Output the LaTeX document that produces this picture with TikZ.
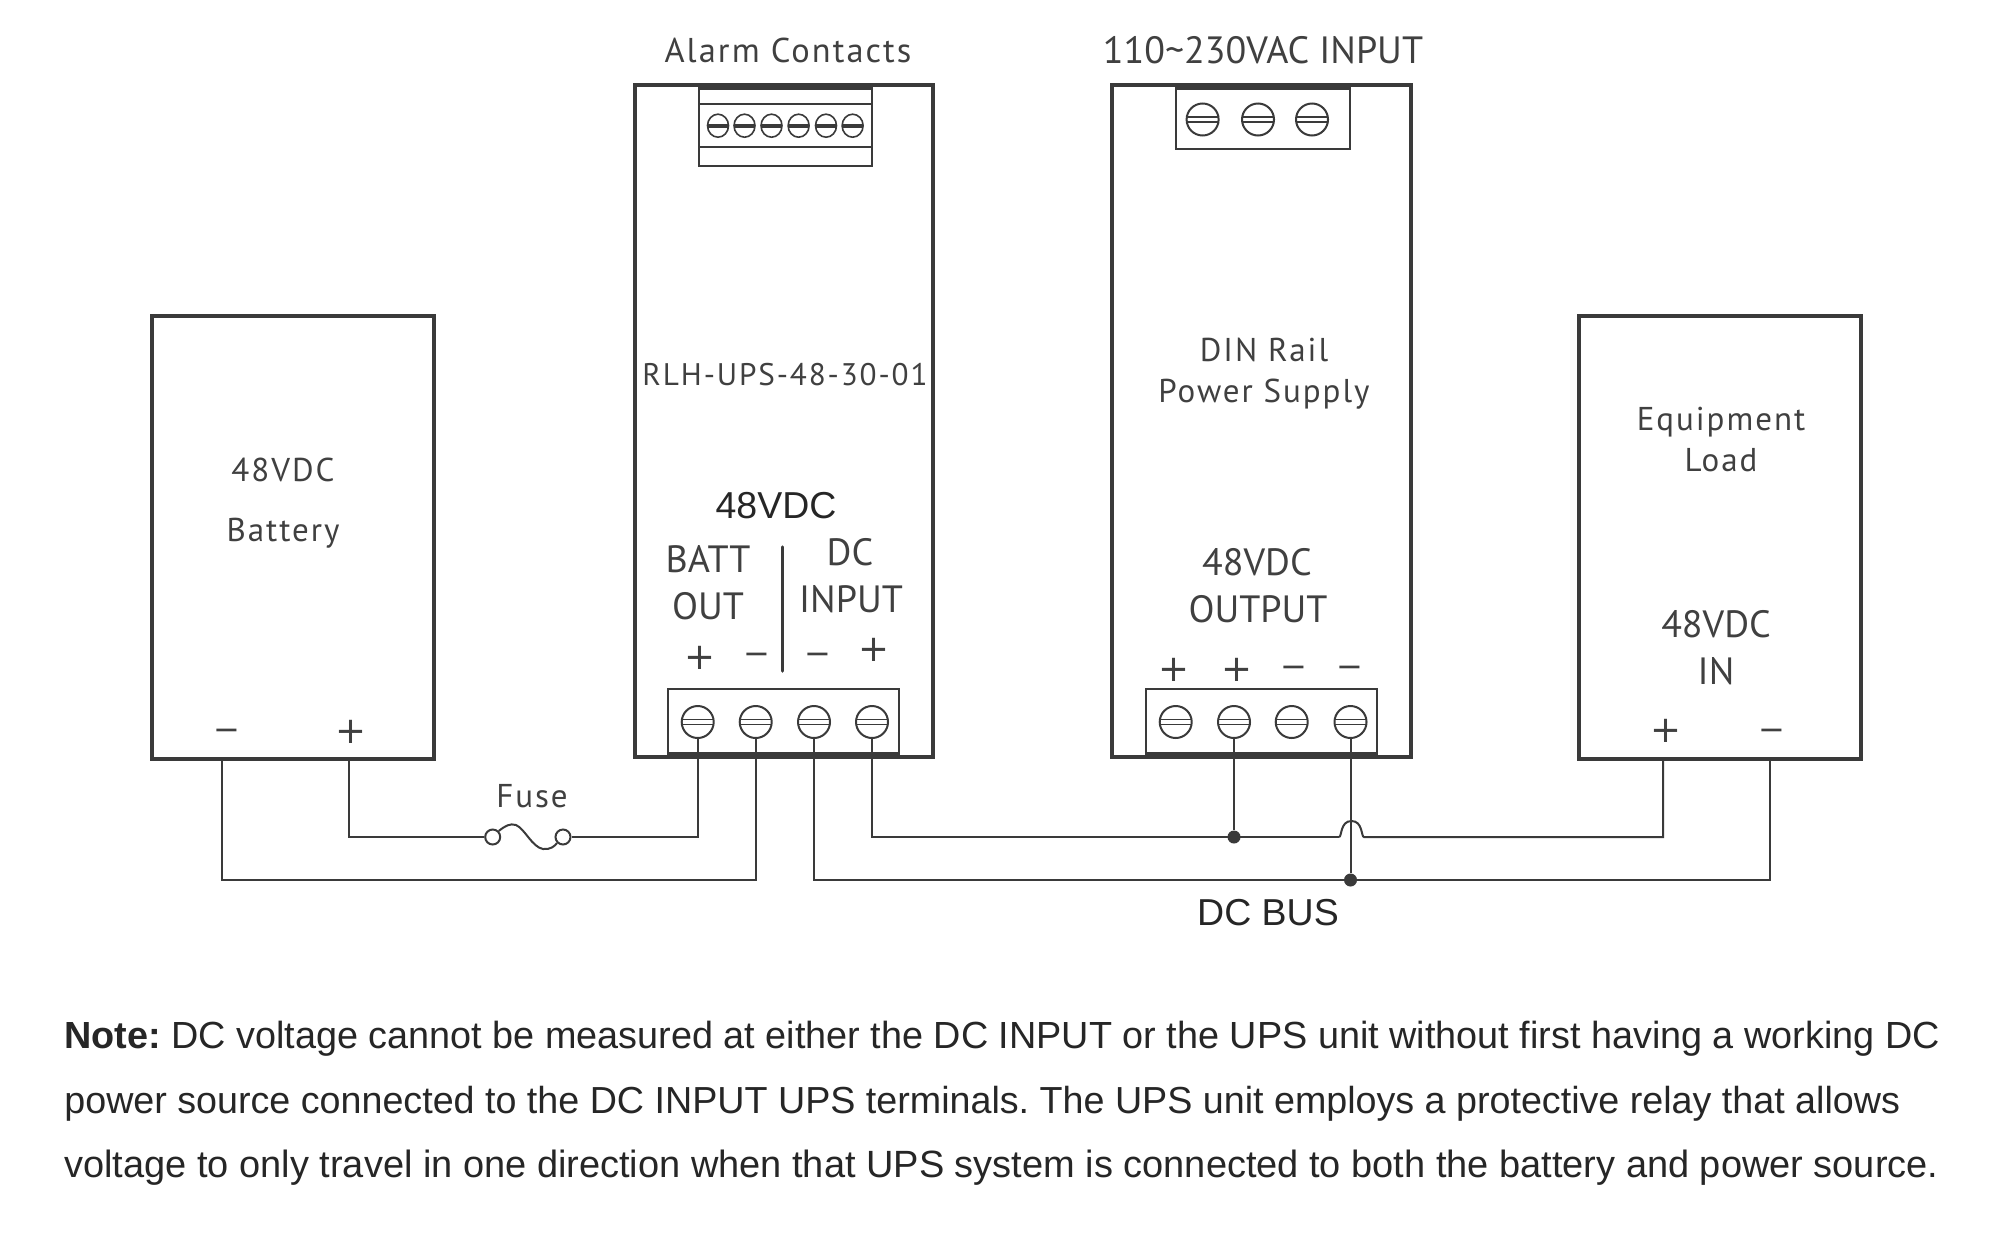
\documentclass[tikz,border=0pt]{standalone}
\usepackage{fontspec}
\usetikzlibrary{shapes.geometric}
\setmainfont{Liberation Sans}
\newfontfamily\lab{PT Sans}
\newfontfamily\labsp[LetterSpace=6]{PT Sans}
\newfontfamily\signfont{DejaVu Sans}
\newcommand{\fs}[1]{\pgfmathsetlengthmacro{\myfs}{#1*0.5pt}\fontsize{\myfs}{\myfs}\selectfont}
\definecolor{ink}{HTML}{3A3A3A}
\definecolor{txt}{HTML}{404040}
\frenchspacing
\tikzset{
  x=0.5pt,y=-0.5pt,
  unitbox/.style={draw=ink,line width=2pt,rectangle,inner sep=0pt,minimum width=#1},
  termbox/.style={draw=ink,line width=1pt,rectangle,inner sep=0pt},
  screw/.style={draw=ink,line width=1pt,circle,inner sep=0pt,minimum size=16pt,fill=white},
  smallscrew/.style={draw=ink,line width=0.8pt,ellipse,inner sep=0pt,minimum width=10.5pt,minimum height=11.5pt},
  wire/.style={draw=ink,line width=1pt,line join=miter},
  dot/.style={circle,fill=ink,inner sep=0pt,minimum size=6.5pt},
  fusepad/.style={draw=ink,line width=1pt,circle,inner sep=0pt,minimum size=7.5pt},
  lbl/.style={text=txt,inner sep=0pt,align=center,font=\labsp\fs{33}},
  big/.style={text=txt,inner sep=0pt,align=center,font=\lab\fs{38}},
  plus/.style={text=txt,inner sep=0pt,font=\signfont\fs{37}},
  minus/.style={text=txt,inner sep=0pt,font=\signfont\fs{32}},
  hel/.style={text=black!85,inner sep=0pt,font=\fs{37.5}},
  notetext/.style={text=black!85,inner sep=0pt,anchor=base west,font=\fs{#1}},
}
\begin{document}
\begin{tikzpicture}
\useasboundingbox[fill=white] (0,0) rectangle (2000,1237);
% Units
\node[unitbox=141pt,minimum height=221.5pt] (batt) at (293,537.5) {};
\node[unitbox=149pt,minimum height=336pt] (ups) at (784,421) {};
\node[unitbox=149.5pt,minimum height=336pt] (psu) at (1261.5,421) {};
\node[unitbox=141pt,minimum height=221.5pt] (load) at (1720,537.5) {};
% Alarm terminal
\node[termbox,minimum width=86.25pt,minimum height=40.5pt] (alarm) at (785.25,125.5) {};
\fill[ink] (699,84) rectangle (871.5,90);
\draw[ink,line width=1pt] (699,104) -- (871.5,104) (699,147) -- (871.5,147);
\foreach \n/\xx in {1/718,2/744.5,3/771.5,4/798.6,5/826,6/852.6}{
  \node[smallscrew] (a\n) at (\xx,125.7) {};
  \fill[ink] (\xx-10.5,123.7) rectangle (\xx+10.5,127.7);
}
% AC terminal
\node[termbox,minimum width=86.75pt,minimum height=32pt] (ac) at (1262.75,117) {};
\fill[ink] (1176,84) rectangle (1349.5,90);
\foreach \n/\xx in {1/1202.6,2/1258,3/1312}{
  \node[screw] (ac\n) at (\xx,119.5) {};
  \draw[ink,line width=0.8pt] (\xx-15.5,117) -- (\xx+15.5,117) (\xx-15.5,122) -- (\xx+15.5,122);
}
% UPS DC terminal
\node[termbox,minimum width=115.5pt,minimum height=33.5pt] (upsterm) at (783.5,722.5) {};
\fill[ink] (668,751.5) rectangle (899,758);
\foreach \n/\xx in {1/697.7,2/755.7,3/814,4/872}{
  \node[screw] (u\n) at (\xx,722) {};
  \draw[ink,line width=0.8pt] (\xx-15.5,719.5) -- (\xx+15.5,719.5) (\xx-15.5,724.5) -- (\xx+15.5,724.5);
}
\draw[ink,line width=1.75pt,line cap=round] (782.3,547) -- (782.3,671);
% PSU DC terminal
\node[termbox,minimum width=115.5pt,minimum height=33.5pt] (psuterm) at (1261.5,722.5) {};
\fill[ink] (1146,751.5) rectangle (1377,758.5);
\foreach \n/\xx in {1/1175.7,2/1234,3/1291.7,4/1350.5}{
  \node[screw] (p\n) at (\xx,722) {};
  \draw[ink,line width=0.8pt] (\xx-15.5,719.5) -- (\xx+15.5,719.5) (\xx-15.5,724.5) -- (\xx+15.5,724.5);
}
% Wiring anchors
\coordinate (bm) at (222,759);
\coordinate (bp) at (349,759);
\coordinate (lp) at (1663,759);
\coordinate (lm) at (1770,759);
\node[fusepad] (f1) at (492.7,837) {};
\node[fusepad] (f2) at (563,837) {};
\node[dot] (j1) at (1234,837) {};
\node[dot] (j2) at (1350.5,880) {};
\coordinate (h1) at (1339,837);
\coordinate (h2) at (1364,837);
\draw[wire] (bp) |- (f1.west);
\draw[wire] (f2.east) -| (u1.south);
\draw[wire] (bm) |- (u2.south |- j2) -- (u2.south);
\draw[wire] (u3.south) |- (lm |- j2) -- (lm);
\draw[wire] (u4.south) |- (h1);
\draw[wire] (h1) .. controls (1342,837) and (1340,821) .. (1351.5,821) .. controls (1363,821) and (1361,837) .. (h2) -- (h2 -| lp) -- (lp);
\draw[wire] (p2.south) -- (j1);
\draw[wire] (p4.south) -- (j2);
% Fuse link
\draw[wire] (f1.north east) .. controls (505,826) and (510,823) .. (516,825) .. controls (525,829) and (532,847) .. (543,849) .. controls (550,850) and (555,846) .. (f2.south west);
% Labels
\node[lbl,font=\labsp\fs{34.4}] (talarm) at (788,50) {Alarm Contacts};
\node[big] (tac) at (1263,50) {110\char"007E 230VAC INPUT};
\node[lbl,font=\labsp\fs{31.2}] (trlh) at (785,374.5) {RLH-UPS-48-30-01};
\node[lbl] (tpsu1) at (1264,349.5) {DIN Rail};
\node[lbl] (tpsu2) at (1264,394) {Power Supply};
\node[lbl] (tload1) at (1721,422) {Equipment};
\node[lbl] (tload2) at (1721,460) {Load};
\node[lbl] (tbatt1) at (283,470) {48VDC};
\node[lbl] (tbatt2) at (283,533) {Battery};
\node[lbl] (tfuse) at (532,796) {Fuse};
\node[hel] (tups) at (776,506) {48VDC};
\node[big] (tbo1) at (708,559) {BATT};
\node[big] (tbo2) at (708,606) {OUT};
\node[big] (tdc1) at (850,552) {DC};
\node[big] (tdc2) at (851,599) {INPUT};
\node[big] (tpo1) at (1257,562) {48VDC};
\node[big] (tpo2) at (1258,609) {OUTPUT};
\node[big] (tli1) at (1716,624) {48VDC};
\node[big] (tli2) at (1716,671) {IN};
\node[hel] (tbus) at (1268,913) {DC BUS};
% Terminal signs
\node[plus] (s1) at (700,658) {+};
\node[minus] (s2) at (757,659) {\char"2212};
\node[minus] (s3) at (818,659) {\char"2212};
\node[plus] (s4) at (874,650) {+};
\node[plus] (s5) at (1174,670) {+};
\node[plus] (s6) at (1237,670) {+};
\node[minus] (s7) at (1294,672) {\char"2212};
\node[minus] (s8) at (1350,672) {\char"2212};
\node[minus] (s9) at (227,735) {\char"2212};
\node[plus] (s10) at (351,732) {+};
\node[plus] (s11) at (1666,731) {+};
\node[minus] (s12) at (1772,735) {\char"2212};
% Note
\node[notetext=37.79] (n1) at (64,1048) {\textbf{Note:} DC voltage cannot be measured at either the DC INPUT or the UPS unit without first having a working DC};
\node[notetext=37.66] (n2) at (64,1113) {power source connected to the DC INPUT UPS terminals. The UPS unit employs a protective relay that allows};
\node[notetext=37.97] (n3) at (64,1177) {voltage to only travel in one direction when that UPS system is connected to both the battery and power source.};
\end{tikzpicture}
\end{document}
